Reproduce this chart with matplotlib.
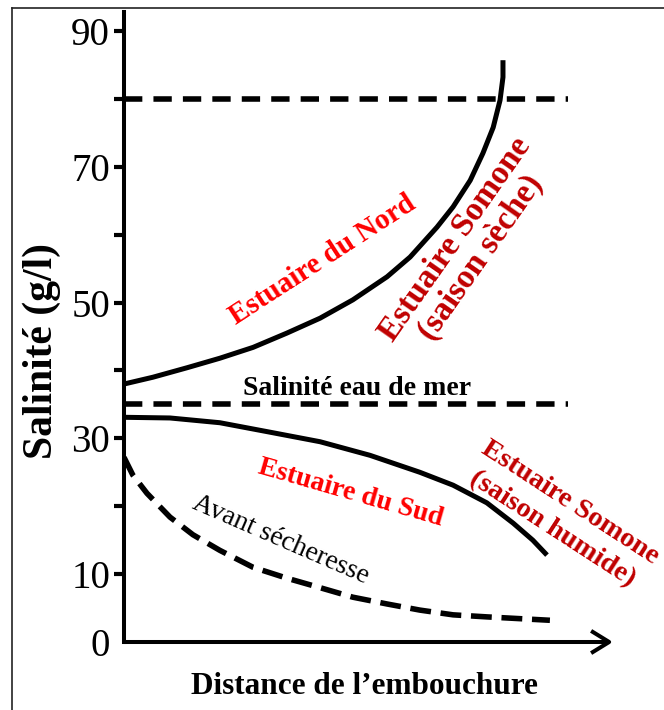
import matplotlib
matplotlib.use("Agg")
import matplotlib.pyplot as plt
from matplotlib.lines import Line2D
from matplotlib.patches import FancyArrowPatch

# salinity profiles along the estuary (distance from mouth in %, salinity in g/l)
nord_x = [0, 5.9, 12.9, 19.6, 26.4, 33.3, 40.1, 46.8, 53.8, 58.5, 64.0, 67.3,
          70.8, 73.4, 75.5, 76.9, 77.5, 77.5]
nord_y = [38.0, 39.0, 40.4, 41.8, 43.4, 45.5, 47.7, 50.4, 53.8, 56.7, 61.1, 64.1,
          68.0, 72.0, 75.8, 79.8, 83.2, 85.7]

sud_x = [0, 9.4, 19.6, 29.9, 40.1, 50.3, 60.5, 67.3, 74.2, 79.6, 83.6, 86.5]
sud_y = [33.1, 33.0, 32.3, 30.9, 29.5, 27.5, 25.0, 23.1, 20.5, 17.5, 15.0, 12.8]

avant_x = [0, 1.8, 4.7, 9.4, 14.1, 19.6, 26.4, 33.3, 40.1, 46.8, 53.8, 60.5,
           67.3, 74.2, 87.1]
avant_y = [27.2, 24.6, 21.9, 18.4, 15.8, 13.5, 11.0, 9.4, 8.0, 6.6, 5.6, 4.7,
           4.0, 3.7, 3.2]

mer = 35
seuil = 80
ref_xmax = 90.8

major_ticks = [0, 10, 30, 50, 70, 90]
minor_ticks = [20, 40, 60, 80]

serif = "Liberation Serif"
rouge = "#FF0000"
bordeaux = "#C00000"

fig = plt.figure(figsize=(6.64, 7.10), dpi=100)
ax = fig.add_axes([124 / 664, 68 / 710, 489 / 664, 630 / 710])
ax.set_xlim(0, 100)
ax.set_ylim(0, 92.8)

for s in ["top", "right", "bottom"]:
    ax.spines[s].set_visible(False)
ax.spines["left"].set_linewidth(2.9)

ax.set_xticks([])
ax.set_yticks(major_ticks)
ax.set_yticks(minor_ticks, minor=True)
ax.tick_params(axis="y", which="both", length=7, width=3, pad=3, direction="out")
ax.tick_params(axis="y", which="major", labelsize=28)
for lab in ax.get_yticklabels():
    lab.set_family(serif)
ax.yaxis.get_major_ticks()[0].tick1line.set_visible(False)

# x axis drawn as an arrow
arr = FancyArrowPatch((0, 0), (100, 0), arrowstyle="->,head_length=13,head_width=8",
                      mutation_scale=1, lw=2.9, color="black", shrinkA=0, shrinkB=0,
                      clip_on=False, transform=ax.transData, capstyle="butt")
ax.add_patch(arr)

# reference lines
ax.plot([0, ref_xmax], [seuil, seuil], color="black", lw=4, dashes=(3.3, 2.0),
        dash_capstyle="butt")
ax.plot([0, ref_xmax], [mer, mer], color="black", lw=4, dashes=(3.3, 2.0),
        dash_capstyle="butt")

# profiles
ax.plot(nord_x, nord_y, color="black", lw=3.6, solid_capstyle="butt",
        solid_joinstyle="round", clip_on=False)
ax.plot(sud_x, sud_y, color="black", lw=3.6, solid_capstyle="butt",
        solid_joinstyle="round")
ax.plot(avant_x, avant_y, color="black", lw=4, dashes=(3.75, 1.75),
        dash_capstyle="butt", dash_joinstyle="round")

# annotations
ax.text(47.6, 37.4, "Salinité eau de mer", family=serif, weight="bold", fontsize=20,
        ha="center", va="center")
ax.text(40.5, 56.3, "Estuaire du Nord", family=serif, weight="bold", fontsize=21,
        color=rouge, rotation=33, rotation_mode="anchor", ha="center", va="center")
ax.text(70.3, 58.0, "Estuaire Somone\n(saison sèche)", family=serif, weight="bold",
        fontsize=24, color=bordeaux, rotation=55, rotation_mode="anchor",
        ha="center", va="center", multialignment="center", linespacing=1.0)
ax.text(46.4, 22.0, "Estuaire du Sud", family=serif, weight="bold", fontsize=20,
        color=rouge, rotation=-16, rotation_mode="anchor", ha="center", va="center")
ax.text(89.4, 18.6, "Estuaire Somone\n(saison humide)", family=serif, weight="bold",
        fontsize=20.5, color=bordeaux, rotation=-33, rotation_mode="anchor",
        ha="center", va="center", multialignment="center", linespacing=1.3, clip_on=False)
ax.text(32.1, 15.0, "Avant sécheresse", family=serif, fontsize=20,
        rotation=-23.5, rotation_mode="anchor", ha="center", va="center")

fig.text(42 / 664, 1 - 351 / 710, "Salinité (g/l)", family=serif, weight="bold",
         fontsize=30, rotation=90, ha="center", va="center")
fig.text(364 / 664, 1 - 686 / 710, "Distance de l\u2019embouchure", family=serif,
         weight="bold", fontsize=22.5, ha="center", va="center")

# outer frame
fig.add_artist(Line2D([12 / 664, 12 / 664], [0, 1 - 8 / 710], color="#222222", lw=1.2))
fig.add_artist(Line2D([12 / 664, 1], [1 - 8 / 710, 1 - 8 / 710], color="#222222", lw=1.2))

fig.savefig("out.png", dpi=100)
